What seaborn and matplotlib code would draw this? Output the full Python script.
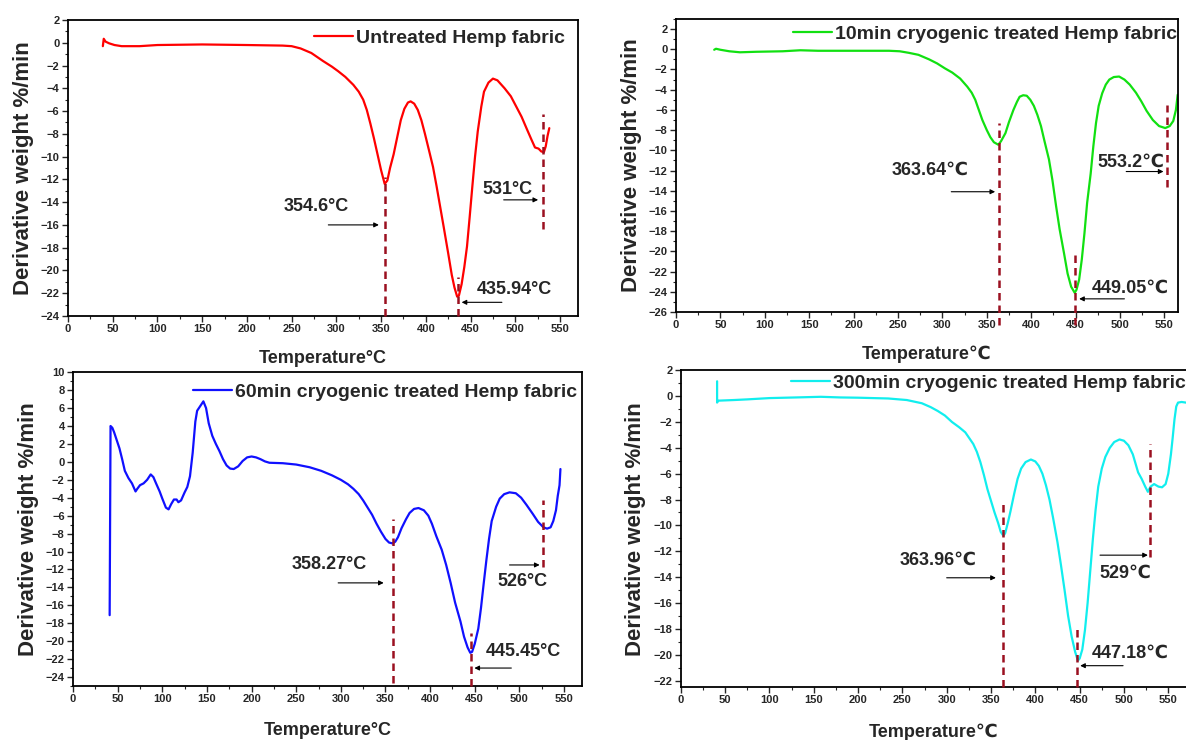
import numpy as np
import pandas as pd
import seaborn as sns
import matplotlib.pyplot as plt
from matplotlib.ticker import MultipleLocator

# ---- DTG curves (temperature in C, derivative weight %/min) ----
temp_untreated = [39, 40, 42, 46, 52, 60, 80, 100, 150, 200, 240, 250, 260, 272, 285, 295, 302, 310,
                  319, 325, 330, 334, 338, 342, 346, 350, 354, 357, 360, 364, 368, 372, 376, 380,
                  383, 387, 391, 395, 399, 404, 408, 412, 416, 420, 425, 429, 432, 435, 437, 440,
                  443, 446, 449, 452, 455, 458, 462, 465, 470, 475, 480, 488, 495, 501, 507, 513,
                  518, 522, 526, 529, 532, 534, 536, 538]
dtg_untreated = [-0.3, 0.35, 0.1, -0.05, -0.2, -0.3, -0.3, -0.2, -0.15, -0.2, -0.25, -0.3, -0.5,
                 -0.9, -1.6, -2.1, -2.5, -3.0, -3.7, -4.3, -5.0, -5.9, -7.1, -8.4, -9.8, -11.2,
                 -12.4, -12.1, -11.0, -9.8, -8.3, -6.8, -5.8, -5.25, -5.15, -5.35, -5.9, -6.8,
                 -8.0, -9.6, -10.9, -12.6, -14.4, -16.2, -18.5, -20.4, -21.5, -22.3, -22.2, -21.2,
                 -19.7, -17.9, -15.3, -12.6, -10.0, -7.8, -5.6, -4.3, -3.5, -3.15, -3.3, -4.0,
                 -4.7, -5.6, -6.5, -7.6, -8.5, -9.2, -9.3, -9.55, -9.6, -9.1, -8.2, -7.5]

temp_10min = [43, 45, 50, 60, 72, 90, 120, 140, 160, 200, 240, 252, 262, 273, 285, 294, 303, 311,
              320, 328, 333, 337, 341, 345, 350, 354, 358, 363, 366, 371, 375, 380, 384, 387, 391,
              395, 399, 403, 407, 411, 415, 420, 424, 428, 432, 437, 441, 445, 449, 451, 454, 457,
              460, 463, 467, 470, 473, 476, 480, 484, 488, 493, 499, 505, 511, 518, 524, 530, 537,
              544, 551, 556, 560, 563, 565]
dtg_10min = [-0.05, 0.05, -0.05, -0.2, -0.3, -0.25, -0.2, -0.1, -0.15, -0.15, -0.15, -0.2, -0.35,
             -0.55, -1.0, -1.4, -1.9, -2.3, -2.9, -3.7, -4.3, -5.0, -6.0, -7.0, -8.0, -8.7, -9.2,
             -9.45, -9.1, -8.3, -7.2, -6.0, -5.2, -4.7, -4.55, -4.6, -5.0, -5.6, -6.5, -7.6, -9.1,
             -10.9, -13.0, -15.5, -17.8, -20.2, -22.2, -23.5, -24.1, -23.8, -22.8, -20.8, -18.2,
             -15.2, -12.3, -9.6, -7.3, -5.6, -4.35, -3.5, -3.0, -2.75, -2.7, -3.0, -3.5, -4.3,
             -5.15, -6.1, -7.0, -7.6, -7.8, -7.6, -7.1, -6.0, -4.5]

temp_60min = [41, 42, 44, 46, 49, 52, 55, 58, 62, 66, 70, 72, 75, 79, 83, 87, 90, 93, 97, 100, 104,
              107, 110, 113, 116, 118, 121, 125, 128, 131, 134, 137, 139, 143, 146, 149, 152, 156,
              160, 164, 168, 172, 176, 180, 185, 190, 195, 200, 205, 210, 215, 220, 235, 250, 265,
              278, 290, 300, 308, 314, 320, 325, 330, 335, 340, 345, 350, 354, 358, 361, 364, 368,
              373, 377, 382, 387, 393, 398, 402, 407, 413, 418, 423, 428, 434, 438, 442, 445, 447,
              450, 454, 457, 460, 463, 466, 469, 474, 478, 483, 489, 496, 502, 508, 515, 521, 527,
              531, 535, 538, 541, 543, 545, 546]
dtg_60min = [-17.1, 4.0, 3.8, 3.3, 2.4, 1.5, 0.3, -1.0, -1.8, -2.4, -3.3, -3.0, -2.6, -2.4, -2.0,
             -1.4, -1.7, -2.4, -3.3, -4.1, -5.1, -5.3, -4.7, -4.2, -4.2, -4.5, -4.3, -3.4, -2.8,
             -1.6, 1.0, 4.5, 5.7, 6.3, 6.75, 6.0, 4.3, 2.9, 2.0, 1.2, 0.3, -0.4, -0.75, -0.8, -0.5,
             0.1, 0.5, 0.6, 0.5, 0.3, 0.05, -0.1, -0.15, -0.3, -0.6, -1.0, -1.5, -2.0, -2.5, -3.0,
             -3.6, -4.3, -5.1, -5.9, -6.9, -7.8, -8.6, -9.0, -9.1, -8.9, -8.4, -7.4, -6.4, -5.7,
             -5.25, -5.15, -5.4, -6.0, -6.9, -8.3, -9.8, -11.5, -13.5, -15.7, -17.8, -19.5, -20.7,
             -21.3, -21.2, -20.3, -18.6, -16.3, -13.6, -11.0, -8.6, -6.6, -5.0, -4.1, -3.6, -3.4,
             -3.5, -4.0, -4.8, -5.8, -6.7, -7.3, -7.45, -7.3, -6.6, -5.4, -3.8, -2.6, -0.8]

temp_300min = [41, 41, 42, 60, 75, 100, 130, 158, 180, 200, 234, 255, 272, 282, 290, 298, 306, 314,
               321, 326, 330, 334, 338, 342, 346, 350, 354, 358, 361, 364, 366, 369, 372, 376, 380,
               384, 389, 395, 400, 404, 408, 412, 416, 420, 425, 429, 433, 437, 441, 445, 448, 450,
               453, 456, 459, 462, 465, 468, 471, 475, 479, 484, 489, 495, 500, 505, 510, 513, 516,
               520, 524, 527, 530, 534, 539, 543, 547, 550, 553, 555, 557, 559, 561, 565, 570]
dtg_300min = [1.15, -0.5, -0.35, -0.3, -0.25, -0.15, -0.1, -0.05, -0.1, -0.12, -0.18, -0.3, -0.55,
              -0.85, -1.15, -1.5, -2.0, -2.4, -2.8, -3.3, -3.7, -4.3, -5.1, -6.1, -7.2, -8.1, -9.0,
              -9.8, -10.5, -10.8, -10.6, -9.8, -8.9, -7.6, -6.4, -5.6, -5.1, -4.9, -5.05, -5.4,
              -6.0, -6.9, -8.0, -9.4, -11.3, -13.1, -15.0, -17.0, -18.6, -19.8, -20.45, -20.3,
              -19.6, -18.1, -16.0, -13.5, -11.0, -8.8, -7.0, -5.6, -4.7, -4.0, -3.55, -3.35, -3.45,
              -3.8, -4.5, -5.2, -5.9, -6.4, -7.0, -7.4, -7.0, -6.8, -7.0, -7.05, -6.8, -6.0, -4.5,
              -3.2, -1.8, -0.8, -0.5, -0.45, -0.5]

# ---- peak annotations ----
peaks_untreated = [354.6, 435.94, 531]
peaks_10min = [363.64, 449.05, 553.2]
peaks_60min = [358.27, 445.45, 526]
peaks_300min = [363.96, 447.18, 529]

labels_untreated = ["354.6°C", "435.94°C", "531°C"]
labels_10min = ["363.64℃", "449.05℃", "553.2℃"]
labels_60min = ["358.27°C", "445.45°C", "526°C"]
labels_300min = ["363.96℃", "447.18℃", "529℃"]

# dashed marker extent (top, bottom) for each peak
dash_untreated = [(-11.8, -24), (-20.6, -24), (-6.3, -16.4)]
dash_10min = [(-7.3, -27.3), (-20.3, -27.3), (-5.5, -13.6)]
dash_60min = [(-6.4, -24.7), (-19.1, -25), (-4.2, -11.7)]
dash_300min = [(-8.3, -22.5), (-18.0, -22.5), (-3.7, -12.45)]

# text position (x, y) for each label
text_untreated = [(277, -14.4), (499, -21.7), (491, -12.9)]
text_10min = [(286, -12.0), (512, -23.7), (512, -11.2)]
text_60min = [(287, -11.5), (505, -21.1), (503, -13.4)]
text_300min = [(290, -12.7), (507, -19.9), (501, -13.7)]

# arrow (tail x, head x, y)
arrow_untreated = [(291, 347.5, -16.0), (485, 440, -22.8), (487, 525.5, -13.8)]
arrow_10min = [(310, 359.4, -14.1), (505, 454, -24.7), (507, 549, -12.1)]
arrow_60min = [(297, 348, -13.5), (491, 449.6, -23.0), (489, 522.7, -11.5)]
arrow_300min = [(300, 355.5, -14.05), (499, 450.6, -20.85), (473, 527, -12.3)]

sns.set_theme(style="ticks")
plt.rcParams['font.family'] = ['Liberation Sans', 'DejaVu Sans']
plt.rcParams['font.weight'] = 'bold'
plt.rcParams['axes.labelweight'] = 'bold'

DASH_COLOR = '#9b1020'


def draw_panel(ax, temp, dtg, color, name, ylim, ystep_top, xmax, peaks, labels, dashes, texts,
               arrows, xlabel, legend_anchor, xlabelpad):
    df = pd.DataFrame({'Temperature': temp, 'DTG': dtg})
    sns.lineplot(data=df, x='Temperature', y='DTG', ax=ax, color=color, sort=False,
                 estimator=None, linewidth=1.6, label=name)

    for p, (top, bot) in zip(peaks, dashes):
        ax.vlines(p, bot, top, colors=DASH_COLOR, linestyles=(0, (3, 2)), linewidth=1.8,
                  clip_on=False, zorder=3)
    for lab, (tx, ty) in zip(labels, texts):
        ax.text(tx, ty, lab, ha='center', va='center', fontsize=13, fontweight='bold')
    for tail, head, ay in arrows:
        ax.annotate('', xy=(head, ay), xytext=(tail, ay),
                    arrowprops=dict(arrowstyle='-|>', color='black', lw=0.8,
                                    mutation_scale=7, shrinkA=0, shrinkB=0))

    ax.set_xlim(0, xmax)
    ax.set_ylim(*ylim)
    ax.set_xticks(np.arange(0, 551, 50))
    ax.set_yticks(np.arange(np.ceil(ylim[0] / 2) * 2, ystep_top + 0.1, 2))
    ax.xaxis.set_minor_locator(MultipleLocator(25))
    ax.yaxis.set_minor_locator(MultipleLocator(1))
    ax.tick_params(which='major', direction='out', length=4, width=1, labelsize=8, pad=2)
    ax.tick_params(which='minor', direction='out', length=2, width=0.8)
    for s in ax.spines.values():
        s.set_linewidth(1.3)
        s.set_color('black')

    ax.set_xlabel(xlabel, fontsize=13, fontweight='bold', labelpad=xlabelpad)
    ax.set_ylabel('Derivative weight %/min', fontsize=16, fontweight='bold', labelpad=5)

    ax.legend(loc='center right', bbox_to_anchor=legend_anchor, frameon=False,
              prop={'weight': 'bold', 'size': 14}, handlelength=2.0, handletextpad=0.15,
              borderaxespad=0, borderpad=0)


fig = plt.figure(figsize=(11.86, 7.40), dpi=100)
ax1 = fig.add_axes([0.0573, 0.573, 0.430, 0.400])
ax2 = fig.add_axes([0.570, 0.5784, 0.423, 0.396])
ax3 = fig.add_axes([0.0616, 0.073, 0.429, 0.424])
ax4 = fig.add_axes([0.574, 0.0716, 0.426, 0.428])

draw_panel(ax1, temp_untreated, dtg_untreated, '#ff0000', 'Untreated Hemp fabric', (-24, 2), 2,
           570, peaks_untreated, labels_untreated, dash_untreated, text_untreated,
           arrow_untreated, 'Temperature°C', (0.975, 0.939), 11)
draw_panel(ax2, temp_10min, dtg_10min, '#11e011', '10min cryogenic treated Hemp fabric', (-26, 3), 2,
           565, peaks_10min, labels_10min, dash_10min, text_10min, arrow_10min,
           'Temperature℃', (0.998, 0.949), 11)
draw_panel(ax3, temp_60min, dtg_60min, '#1010ff', '60min cryogenic treated Hemp fabric', (-25, 10), 10,
           570, peaks_60min, labels_60min, dash_60min, text_60min, arrow_60min,
           'Temperature°C', (0.99, 0.936), 13)
draw_panel(ax4, temp_300min, dtg_300min, '#11eeee', '300min cryogenic treated Hemp fabric', (-22.5, 2), 2,
           570, peaks_300min, labels_300min, dash_300min, text_300min, arrow_300min,
           'Temperature℃', (1.0, 0.959), 13)
ax4.spines['right'].set_visible(False)

fig.savefig('out.png', dpi=100)
